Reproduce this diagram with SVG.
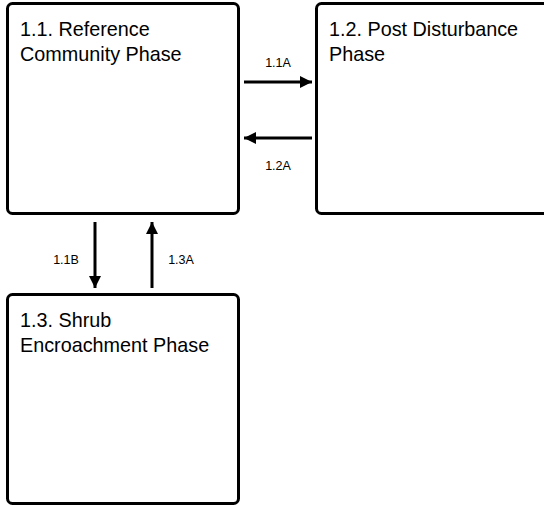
<svg xmlns="http://www.w3.org/2000/svg" width="544" height="506" viewBox="0 0 544 506">
  <style>
    .box { fill: #ffffff; stroke: #000000; stroke-width: 3; }
    .title { font-family: "Liberation Sans", Arial, sans-serif; font-size: 19.8px; fill: #000000; }
    .lbl { font-family: "Liberation Sans", Arial, sans-serif; font-size: 12.5px; fill: #000000; text-anchor: middle; }
    .conn { stroke: #000000; stroke-width: 3; fill: none; marker-end: url(#head); }
  </style>
  <defs>
    <marker id="head" viewBox="0 0 10 10" refX="10" refY="5" markerWidth="4" markerHeight="4" markerUnits="strokeWidth" orient="auto">
      <path d="M0,0 L10,5 L0,10 Z" fill="#000000"/>
    </marker>
  </defs>
  <rect width="544" height="506" fill="#ffffff"/>

  <g id="phase-1-1">
    <rect class="box" x="7.5" y="3.5" width="231" height="210" rx="5"/>
    <text class="title" x="20" y="36">1.1. Reference</text>
    <text class="title" x="20" y="61">Community Phase</text>
  </g>

  <g id="phase-1-2">
    <rect class="box" x="316.5" y="3.5" width="240" height="210" rx="5"/>
    <text class="title" x="329" y="36">1.2. Post Disturbance</text>
    <text class="title" x="329" y="61">Phase</text>
  </g>

  <g id="phase-1-3">
    <rect class="box" x="7.5" y="294.5" width="231" height="209" rx="5"/>
    <text class="title" x="20" y="327">1.3. Shrub</text>
    <text class="title" x="20" y="352">Encroachment Phase</text>
  </g>

  <g id="connectors">
    <line class="conn" x1="244" y1="82" x2="312" y2="82"/>
    <text class="lbl" x="278" y="67">1.1A</text>
    <line class="conn" x1="312" y1="138" x2="244" y2="138"/>
    <text class="lbl" x="278" y="170">1.2A</text>
    <line class="conn" x1="95" y1="222" x2="95" y2="288"/>
    <text class="lbl" x="66" y="264">1.1B</text>
    <line class="conn" x1="152" y1="288" x2="152" y2="222"/>
    <text class="lbl" x="181" y="264">1.3A</text>
  </g>
</svg>
